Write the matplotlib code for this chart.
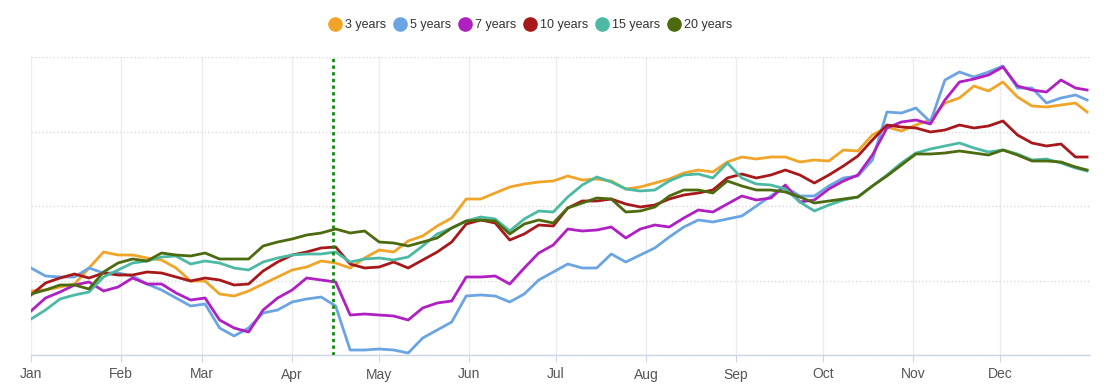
import datetime as dt
import matplotlib
matplotlib.use("Agg")
import matplotlib.pyplot as plt
import matplotlib.dates as mdates
from matplotlib.lines import Line2D

plt.rcParams["font.family"] = ["Liberation Sans", "DejaVu Sans"]

# sampling dates: every 5 days through the year, plus Dec 31
start = dt.date(2019, 1, 1)
days = list(range(0, 365, 5)) + [364]
dates = [start + dt.timedelta(days=d) for d in days]
month_starts = [dt.date(2019, m, 1) for m in range(1, 13)]

# values (relative level, no y labels in the original)
y3 = [64, 65, 68, 71, 87, 103, 100, 100, 97, 95,
      87, 74, 74, 61, 59, 64, 71, 78, 85, 88,
      94, 92, 87, 97, 105, 103, 114, 119, 129, 137,
      156, 156, 162, 168, 171, 173, 174, 179, 175, 176,
      174, 166, 168, 172, 176, 182, 185, 183, 193, 198,
      196, 198, 198, 193, 195, 194, 205, 204, 220, 228,
      224, 230, 235, 252, 257, 269, 264, 273, 258, 249,
      248, 250, 252, 243]
y5 = [87, 79, 78, 78, 87, 82, 82, 79, 71, 65,
      57, 49, 51, 27, 19, 27, 42, 45, 53, 56,
      58, 49, 5, 5, 6, 5, 2, 17, 25, 33,
      59, 60, 59, 53, 61, 75, 83, 91, 87, 87,
      101, 93, 100, 107, 118, 128, 135, 133, 136, 139,
      149, 159, 168, 159, 159, 169, 177, 179, 195, 243,
      242, 247, 233, 275, 283, 278, 283, 289, 267, 267,
      252, 257, 260, 255]
y7 = [44, 57, 63, 70, 73, 64, 68, 77, 71, 71,
      62, 55, 57, 35, 27, 23, 45, 57, 65, 77,
      75, 73, 40, 41, 40, 39, 35, 47, 52, 54,
      78, 78, 79, 71, 87, 102, 110, 126, 124, 125,
      128, 117, 126, 130, 128, 137, 145, 143, 151, 159,
      155, 157, 170, 153, 155, 166, 174, 180, 200, 227,
      233, 235, 231, 255, 273, 276, 280, 288, 269, 265,
      263, 275, 267, 265]
y10 = [60, 72, 77, 81, 77, 82, 80, 80, 83, 82,
       78, 74, 77, 75, 70, 71, 84, 93, 100, 103,
       107, 108, 91, 87, 88, 93, 87, 95, 103, 113,
       131, 135, 132, 115, 121, 130, 129, 147, 154, 154,
       156, 151, 148, 150, 156, 160, 162, 165, 177, 181,
       177, 180, 185, 180, 172, 180, 189, 199, 215, 230,
       228, 227, 223, 225, 230, 227, 229, 234, 220, 212,
       209, 211, 198, 198]
y15 = [36, 45, 56, 60, 63, 78, 85, 92, 94, 98,
       99, 91, 94, 92, 87, 85, 93, 97, 100, 101,
       101, 103, 93, 96, 97, 95, 98, 109, 121, 127,
       134, 138, 136, 124, 136, 144, 143, 158, 170, 178,
       173, 166, 164, 165, 174, 180, 181, 177, 192, 177,
       171, 170, 166, 153, 144, 150, 155, 158, 169, 180,
       192, 202, 206, 209, 212, 207, 203, 205, 201, 195,
       196, 192, 187, 184]
y20 = [61, 65, 70, 70, 66, 83, 92, 96, 94, 102,
       100, 99, 102, 96, 96, 96, 109, 113, 116, 120,
       122, 126, 122, 124, 113, 112, 109, 113, 117, 127,
       134, 135, 134, 121, 131, 135, 132, 147, 152, 157,
       156, 143, 144, 148, 159, 165, 165, 162, 174, 169,
       165, 165, 163, 158, 152, 154, 156, 158, 169, 179,
       190, 201, 201, 202, 204, 202, 200, 205, 200, 194,
       194, 193, 188, 185]

labels = ["3 years", "5 years", "7 years", "10 years", "15 years", "20 years"]
colors = ["#f0a428", "#6ba4e3", "#b01fc2", "#a8171a", "#4cb9a4", "#4c6b0f"]
series = [y3, y5, y7, y10, y15, y20]
marker_date = dt.date(2019, 4, 15)

fig = plt.figure(figsize=(11.04, 3.92), dpi=100)
ax = fig.add_axes([31 / 1104, 1 - 355 / 392, 1059 / 1104, 298 / 392])

for vals, c in zip(series, colors):
    ax.plot(dates, vals, color=c, lw=2.0, solid_joinstyle="round")

ax.axvline(marker_date, color="#138a13", lw=2, ls=(0, (1.2, 1.2)), zorder=5)

ax.set_xlim(start, start + dt.timedelta(days=365.2))
ax.set_ylim(0, 298)
ax.set_yticks([0, 74.5, 149, 223.5, 298])
ax.set_yticklabels([])
ax.tick_params(axis="y", length=0)

ax.set_xticks(month_starts)
ax.xaxis.set_major_formatter(mdates.DateFormatter("%b"))
ax.tick_params(axis="x", length=5, color="#ccd6eb", labelsize=10,
               labelcolor="#555555", pad=4)

ax.grid(axis="y", color="#d8d8d8", ls=":", lw=1)
ax.grid(axis="x", color="#ececec", ls="-", lw=1)
ax.set_axisbelow(True)
for s in ["top", "left", "right"]:
    ax.spines[s].set_visible(False)
ax.spines["bottom"].set_color("#ccd6eb")
ax.spines["bottom"].set_linewidth(1)

handles = [Line2D([], [], ls="none", marker="o", ms=9.5, color=c) for c in colors]
fig.legend(handles, labels, loc="center", bbox_to_anchor=(0.481, 0.936),
           ncol=6, frameon=False, fontsize=9, handlelength=0.9,
           handletextpad=0.35, columnspacing=0.65, labelcolor="#333333")

fig.savefig("out.png", dpi=100)
